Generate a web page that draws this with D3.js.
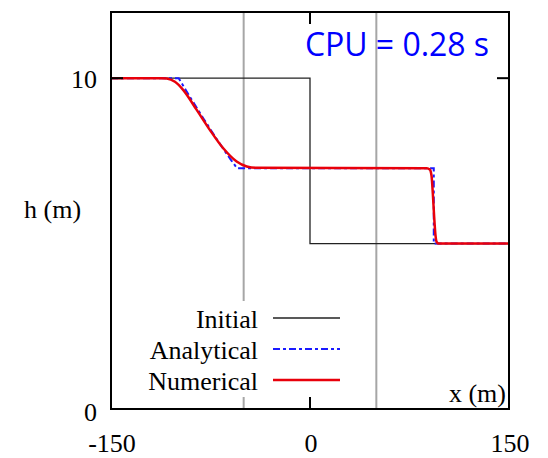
<!DOCTYPE html>
<html><head><meta charset="utf-8">
<script src="https://cdn.jsdelivr.net/npm/d3@7"></script>
<style>body{margin:0;background:#fff}svg{display:block}</style>
</head><body>
<script>
// ---- data ----
const xTicks = [-150, 0, 150];
const yTicks = [0, 10];
const guideX = [-50, 50];
const initialX = [-150, 0, 0, 150];
const initialH = [10, 10, 5, 5];
const analyticalX = [-150, -99, -90, -80, -70, -60, -55, 93.3, 93.3, 150];
const analyticalH = [10, 10, 9.40, 8.76, 8.14, 7.55, 7.28, 7.28, 5, 5];
const numericalX = [-150, -112, -108, -101.8, -95.5, -85.4, -75.4, -65.4, -55.3, -47.7, -40.2, 88, 90.3, 91.6, 92.6, 93.6, 94.6, 95.6, 97, 150];
const numericalH = [10, 10, 9.99, 9.89, 9.64, 9.04, 8.43, 7.88, 7.48, 7.33, 7.29, 7.28, 7.24, 7.05, 6.5, 5.8, 5.25, 5.04, 5, 5];
const legendLabels = ["Initial", "Analytical", "Numerical"];
const cpuLabel = "CPU = 0.28 s";

const W = 548, H = 458;
const svg = d3.select("body").append("svg").attr("width", W).attr("height", H);
const x = d3.scaleLinear().domain([-150, 150]).range([111, 509]);
const y = d3.scaleLinear().domain([0, 12]).range([409, 12]);
const serif = "'Liberation Serif','Times New Roman',serif";

// guide lines
svg.selectAll(".guide").data(guideX).enter().append("line")
  .attr("x1", d => x(d)).attr("x2", d => x(d))
  .attr("y1", y(12)).attr("y2", y(0))
  .attr("stroke", "#a6a6a6").attr("stroke-width", 2);

const line = d3.line().x(d => x(d[0])).y(d => y(d[1]));

// initial
svg.append("path").datum(d3.zip(initialX, initialH)).attr("d", line)
  .attr("fill", "none").attr("stroke", "#222").attr("stroke-width", 1.3);

// legend background
svg.append("rect").attr("x", 140).attr("y", 301).attr("width", 205).attr("height", 96).attr("fill", "#fff");

// analytical
svg.append("path").datum(d3.zip(analyticalX, analyticalH)).attr("d", line)
  .attr("fill", "none").attr("stroke", "#1a1aff").attr("stroke-width", 2)
  .attr("stroke-dasharray", "7,3,3,3");

// numerical
svg.append("path").datum(d3.zip(numericalX, numericalH)).attr("d", d3.line().x(d => x(d[0])).y(d => y(d[1])).curve(d3.curveMonotoneX))
  .attr("fill", "none").attr("stroke", "#e8000b").attr("stroke-width", 2.5)
  .attr("stroke-linejoin", "round");

// frame
svg.append("rect").attr("x", x(-150)).attr("y", y(12))
  .attr("width", x(150) - x(-150)).attr("height", y(0) - y(12))
  .attr("fill", "none").attr("stroke", "#000").attr("stroke-width", 2);

// ticks (inward, mirrored)
xTicks.forEach(t => {
  svg.append("line").attr("x1", x(t)).attr("x2", x(t)).attr("y1", y(0)).attr("y2", y(0) - 12).attr("stroke", "#000").attr("stroke-width", 2);
  svg.append("line").attr("x1", x(t)).attr("x2", x(t)).attr("y1", y(12)).attr("y2", y(12) + 12).attr("stroke", "#000").attr("stroke-width", 2);
});
yTicks.forEach(t => {
  svg.append("line").attr("x1", x(-150)).attr("x2", x(-150) + 12).attr("y1", y(t)).attr("y2", y(t)).attr("stroke", "#000").attr("stroke-width", 2);
  svg.append("line").attr("x1", x(150)).attr("x2", x(150) - 12).attr("y1", y(t)).attr("y2", y(t)).attr("stroke", "#000").attr("stroke-width", 2);
});

// tick labels
svg.selectAll(".xl").data(xTicks).enter().append("text")
  .attr("x", d => x(d) + 1).attr("y", 452).attr("text-anchor", "middle")
  .attr("font-family", serif).attr("font-size", 26).text(d => d);
svg.selectAll(".yl").data(yTicks).enter().append("text")
  .attr("x", 97).attr("y", d => y(d) + 10 + (d === 0 ? 2 : 0)).attr("text-anchor", "end")
  .attr("font-family", serif).attr("font-size", 26).text(d => d);

// axis titles
svg.append("text").attr("x", 24).attr("y", 218).attr("font-family", serif).attr("font-size", 26).text("h (m)");
svg.append("text").attr("x", 506).attr("y", 402).attr("text-anchor", "end").attr("font-family", serif).attr("font-size", 26).text("x (m)");

// legend
const legendColors = ["#222", "#1a1aff", "#e8000b"];
const legendWidths = [1.3, 2, 2.5];
const legendDash = [null, "7,3,3,3", null];
legendLabels.forEach((lab, i) => {
  const by = 328 + i * 31;
  svg.append("text").attr("x", 258).attr("y", by).attr("text-anchor", "end")
    .attr("font-family", serif).attr("font-size", 26).text(lab);
  svg.append("line").attr("x1", 273).attr("x2", 340).attr("y1", by - 10).attr("y2", by - 10)
    .attr("stroke", legendColors[i]).attr("stroke-width", legendWidths[i])
    .attr("stroke-dasharray", legendDash[i]);
});

// CPU label
svg.append("text").attr("x", 305).attr("y", 56).attr("font-family", "'Open Sans','Noto Sans',sans-serif")
  .attr("font-size", 32).attr("fill", "#0000ff")
  .attr("textLength", 184).attr("lengthAdjust", "spacing").text(cpuLabel);
</script>
</body></html>
